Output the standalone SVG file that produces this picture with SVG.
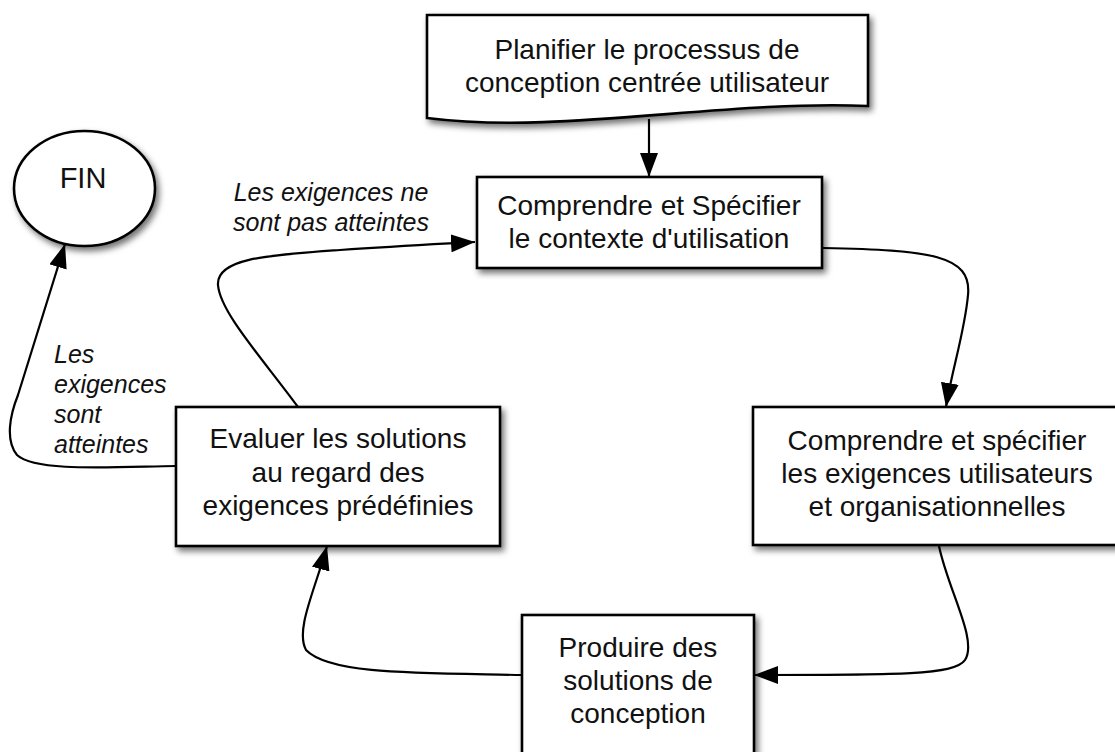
<svg xmlns="http://www.w3.org/2000/svg" width="1115" height="752" viewBox="0 0 1115 752">
  <style>
    .shape { fill: #ffffff; stroke: #000000; stroke-width: 2.6; filter: url(#shadow); }
    .label { font-family: "Liberation Sans", Arial, sans-serif; font-size: 28px; fill: #111111; text-anchor: middle; }
    .note { font-family: "Liberation Sans", Arial, sans-serif; font-size: 25px; font-style: italic; fill: #111111; }
    .conn { fill: none; stroke: #000000; stroke-width: 2.2; marker-end: url(#arrow); }
  </style>
  <defs>
    <filter id="shadow" x="-10%" y="-10%" width="130%" height="140%">
      <feDropShadow dx="3" dy="4" stdDeviation="3" flood-color="#000000" flood-opacity="0.55"/>
    </filter>
    <marker id="arrow" viewBox="0 0 24 18" refX="24" refY="9" markerWidth="24" markerHeight="18" markerUnits="userSpaceOnUse" orient="auto">
      <path d="M0,0 L24,9 L0,18 Z" fill="#000000"/>
    </marker>
  </defs>
  <rect width="1115" height="752" fill="#ffffff"/>

  <g id="connectors">
    <path class="conn" d="M649,119 L649,177"/>
    <path class="conn" d="M823,248 C 930,250 972,255 968,295 C 965,330 952,370 946,407"/>
    <path class="conn" d="M939,546 C 948,590 978,640 965,660 C 955,675 900,675 754,675"/>
    <path class="conn" d="M522,675 C 420,673 330,675 306,650 C 295,630 315,590 327,546"/>
    <path class="conn" d="M298,407 C 262,358 220,312 218,285 C 216,258 270,255 340,250 C 400,246 440,244 475,242"/>
    <path class="conn" d="M176,466 C 110,467 35,472 17,455 C 5,440 10,415 18,395 C 30,355 48,300 65,244"/>
  </g>

  <g id="node-planifier">
    <path class="shape" d="M427,15 H868 V106 C 720,100 560,135 427,118 Z"/>
    <text class="label" x="647" y="59">Planifier le processus de</text>
    <text class="label" x="647" y="92">conception centrée utilisateur</text>
  </g>

  <g id="node-contexte">
    <rect class="shape" x="477" y="177" width="345" height="91"/>
    <text class="label" x="649" y="215">Comprendre et Spécifier</text>
    <text class="label" x="649" y="248">le contexte d'utilisation</text>
  </g>

  <g id="node-exigences">
    <rect class="shape" x="753" y="407" width="368" height="138"/>
    <text class="label" x="937" y="450">Comprendre et spécifier</text>
    <text class="label" x="937" y="483">les exigences utilisateurs</text>
    <text class="label" x="937" y="516">et organisationnelles</text>
  </g>

  <g id="node-produire">
    <rect class="shape" x="522" y="615" width="232" height="160"/>
    <text class="label" x="638" y="657">Produire des</text>
    <text class="label" x="638" y="690">solutions de</text>
    <text class="label" x="638" y="723">conception</text>
  </g>

  <g id="node-evaluer">
    <rect class="shape" x="176" y="407" width="324" height="139"/>
    <text class="label" x="338" y="448">Evaluer les solutions</text>
    <text class="label" x="338" y="482">au regard des</text>
    <text class="label" x="338" y="515">exigences prédéfinies</text>
  </g>

  <g id="node-fin">
    <ellipse class="shape" cx="84.5" cy="188.5" rx="70.5" ry="57.5"/>
    <text class="label" x="83" y="188" style="font-size:29px">FIN</text>
  </g>

  <g id="labels">
    <text class="note" x="331" y="201" text-anchor="middle">Les exigences ne</text>
    <text class="note" x="331" y="231" text-anchor="middle">sont pas atteintes</text>
    <text class="note" x="54" y="363">Les</text>
    <text class="note" x="54" y="393">exigences</text>
    <text class="note" x="54" y="423">sont</text>
    <text class="note" x="54" y="453">atteintes</text>
  </g>
</svg>
